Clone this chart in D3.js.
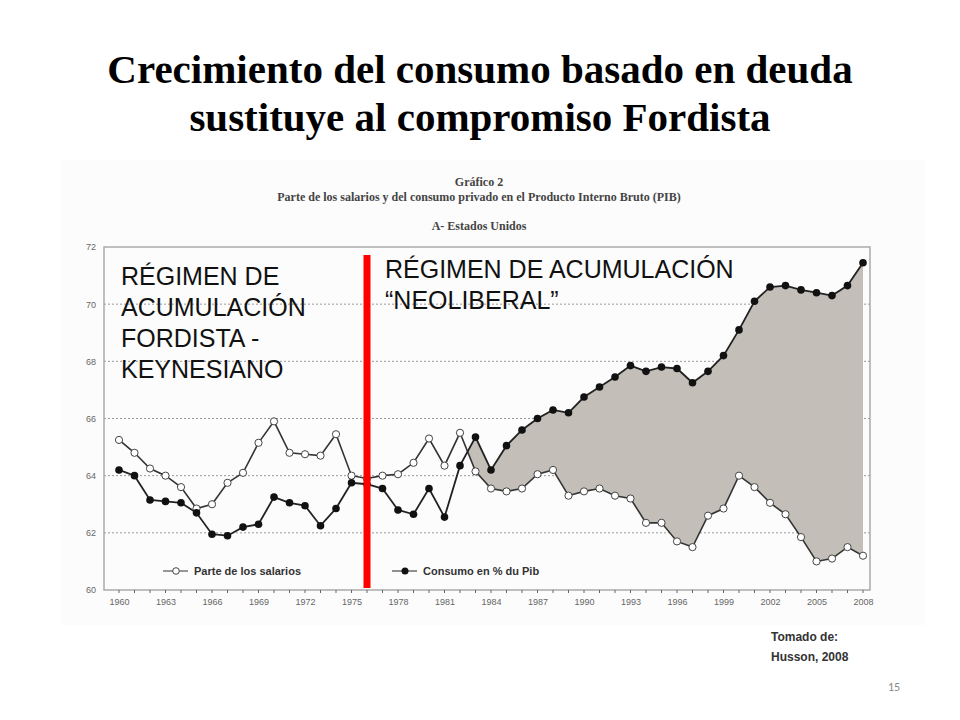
<!DOCTYPE html>
<html><head><meta charset="utf-8">
<script src="https://cdn.jsdelivr.net/npm/d3@7"></script>
<style>body{margin:0;background:#fff}svg{display:block}</style>
</head><body>
<script>
const years = d3.range(1960, 2009);
const salarios = [65.25,64.8,64.25,64.0,63.6,62.85,63.0,63.75,64.1,65.15,65.9,64.8,64.75,64.7,65.45,64.0,63.9,64.0,64.05,64.45,65.3,64.35,65.5,64.15,63.55,63.45,63.55,64.05,64.2,63.3,63.45,63.55,63.3,63.2,62.35,62.35,61.7,61.5,62.6,62.85,64.0,63.6,63.05,62.65,61.85,61.0,61.1,61.5,61.2];
const consumo = [64.2,64.0,63.15,63.1,63.05,62.7,61.95,61.9,62.2,62.3,63.25,63.05,62.95,62.25,62.85,63.75,63.7,63.55,62.8,62.65,63.55,62.55,64.35,65.35,64.2,65.05,65.6,66.0,66.3,66.2,66.75,67.1,67.45,67.85,67.65,67.8,67.75,67.25,67.65,68.2,69.1,70.1,70.6,70.65,70.5,70.4,70.3,70.65,71.45];
const yTicks = [60,62,64,66,68,70,72];
const xTickYears = d3.range(1960, 2009, 3);

const W=960,H=720;
const svg=d3.select("body").append("svg").attr("width",W).attr("height",H);
svg.append("rect").attr("width",W).attr("height",H).attr("fill","#fff");
const serif="'Liberation Serif','Times New Roman',serif", sans="'Liberation Sans',Arial,sans-serif";
[["Crecimiento del consumo basado en deuda",83],["sustituye al compromiso Fordista",131]].forEach(([t,y])=>
 svg.append("text").attr("x",480).attr("y",y).attr("text-anchor","middle").attr("font-family",serif).attr("font-weight","bold").attr("font-size",41).attr("fill","#000").text(t));

svg.append("rect").attr("x",62).attr("y",160).attr("width",863).attr("height",465).attr("fill","#fcfcfc");
[["Gráfico 2",186],["Parte de los salarios y del consumo privado en el Producto Interno Bruto (PIB)",201],["A- Estados Unidos",230]].forEach(([t,yy])=>
 svg.append("text").attr("x",479).attr("y",yy).attr("text-anchor","middle").attr("font-family",serif).attr("font-weight","bold").attr("font-size",12).attr("fill","#444").text(t));

const L=104,R=870,T=247,B=590;
const x=d3.scaleLinear().domain([1960,2008]).range([L+15,R-7]);
const y=d3.scaleLinear().domain([60,72]).range([B,T]);
const g=svg.append("g");
yTicks.forEach(v=>{ if(v>60&&v<72) g.append("line").attr("x1",L).attr("x2",R).attr("y1",y(v)).attr("y2",y(v)).attr("stroke","#999").attr("stroke-dasharray","2,2");});
g.append("rect").attr("x",L).attr("y",T).attr("width",R-L).attr("height",B-T).attr("fill","none").attr("stroke","#aaa").attr("stroke-width",1.5);

const d82=consumo[22]-salarios[22], d83=consumo[23]-salarios[23];
const t=-d82/(d83-d82), xc=1982+t, yc=salarios[22]+t*(salarios[23]-salarios[22]);
const pts=[{yr:xc,hi:yc,lo:yc}].concat(years.slice(23).map((yr,i)=>({yr,hi:consumo[23+i],lo:salarios[23+i]})));
g.append("path").datum(pts).attr("fill","#c4beb8").attr("d",d3.area().x(d=>x(d.yr)).y0(d=>y(d.lo)).y1(d=>y(d.hi)));

const line=d3.line().x((d,i)=>x(years[i])).y(d=>y(d));
g.append("path").datum(salarios).attr("fill","none").attr("stroke","#333").attr("stroke-width",1.6).attr("d",line);
g.append("path").datum(consumo).attr("fill","none").attr("stroke","#222").attr("stroke-width",1.8).attr("d",line);
g.selectAll(".s").data(salarios).enter().append("circle").attr("cx",(d,i)=>x(years[i])).attr("cy",d=>y(d)).attr("r",3.6).attr("fill","#fff").attr("stroke","#444").attr("stroke-width",1);
g.selectAll(".c").data(consumo).enter().append("circle").attr("cx",(d,i)=>x(years[i])).attr("cy",d=>y(d)).attr("r",3.8).attr("fill","#111");

const ya=d3.axisLeft(y).tickValues(yTicks).tickSize(0).tickPadding(8).tickFormat(d3.format("d"));
g.append("g").attr("transform",`translate(${L},0)`).call(ya).call(a=>{a.select(".domain").remove();a.selectAll("text").attr("font-family",sans).attr("font-size",9).attr("fill","#666");});
const xa=d3.axisBottom(x).tickValues(xTickYears).tickSize(0).tickPadding(9).tickFormat(d3.format("d"));
g.append("g").attr("transform",`translate(0,${B})`).call(xa).call(a=>{a.select(".domain").remove();a.selectAll("text").attr("font-family",sans).attr("font-size",9).attr("fill","#666");});
years.forEach(yr=>g.append("line").attr("x1",x(yr)).attr("x2",x(yr)).attr("y1",B).attr("y2",B+3).attr("stroke","#666"));

g.append("line").attr("x1",163).attr("x2",188).attr("y1",571).attr("y2",571).attr("stroke","#333");
g.append("circle").attr("cx",176).attr("cy",571).attr("r",3.3).attr("fill","#fff").attr("stroke","#444");
g.append("text").attr("x",194).attr("y",575).attr("font-family",sans).attr("font-weight","bold").attr("font-size",11).attr("fill","#333").text("Parte de los salarios");
g.append("line").attr("x1",392).attr("x2",417).attr("y1",571).attr("y2",571).attr("stroke","#222");
g.append("circle").attr("cx",405).attr("cy",571).attr("r",3.5).attr("fill","#111");
g.append("text").attr("x",423).attr("y",575).attr("font-family",sans).attr("font-weight","bold").attr("font-size",11).attr("fill","#333").text("Consumo en % du Pib");

g.append("line").attr("x1",367).attr("x2",367).attr("y1",255).attr("y2",588).attr("stroke","#f00").attr("stroke-width",7);

const ann=(lines,x0,y0)=>lines.forEach((s,i)=>svg.append("text").attr("x",x0).attr("y",y0+i*31).attr("font-family",sans).attr("font-size",25).attr("fill","#111").text(s));
ann(["RÉGIMEN DE","ACUMULACIÓN","FORDISTA -","KEYNESIANO"],121,285);
ann(["RÉGIMEN DE ACUMULACIÓN","“NEOLIBERAL”"],385,278);

svg.append("text").attr("x",771).attr("y",641).attr("font-family",sans).attr("font-weight","bold").attr("font-size",12).attr("fill","#333").text("Tomado de:");
svg.append("text").attr("x",771).attr("y",661).attr("font-family",sans).attr("font-weight","bold").attr("font-size",12).attr("fill","#333").text("Husson, 2008");
svg.append("text").attr("x",894).attr("y",691).attr("text-anchor","middle").attr("font-family","Calibri,'Liberation Sans',sans-serif").attr("font-size",12).attr("fill","#888").text("15");
</script>
</body></html>
